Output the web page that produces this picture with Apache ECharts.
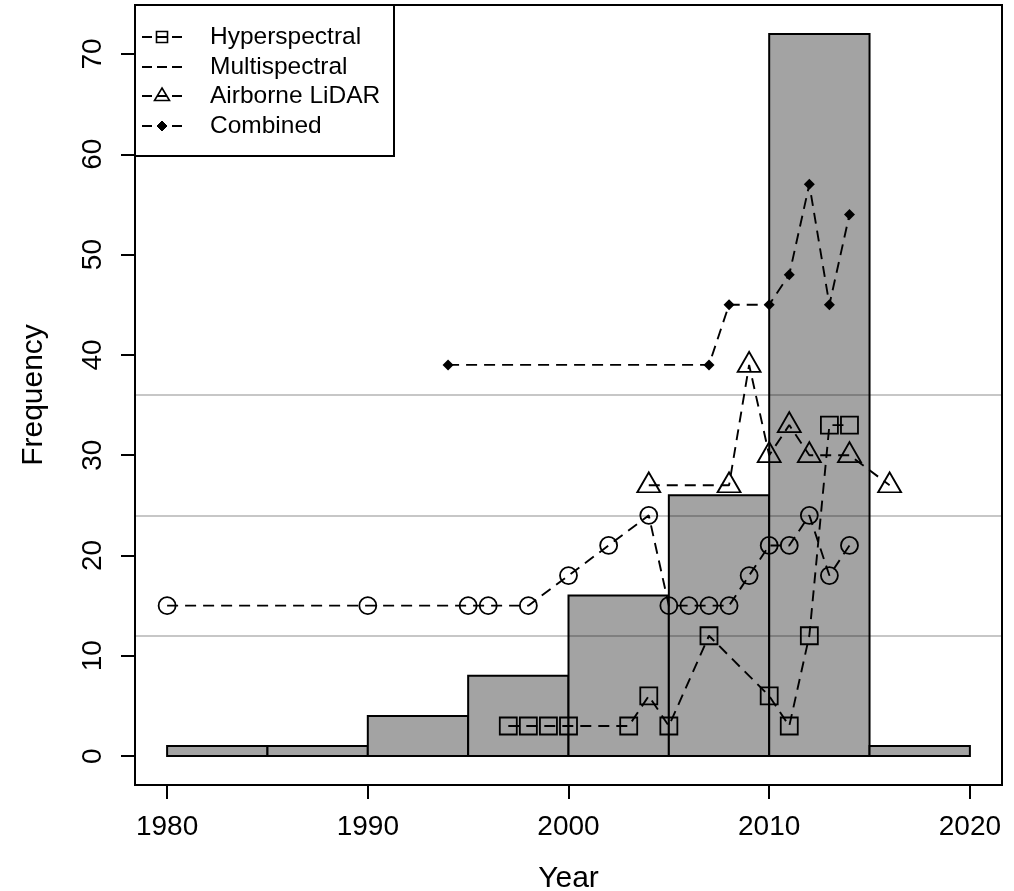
<!DOCTYPE html>
<html>
<head>
<meta charset="utf-8">
<title>Frequency by Year</title>
<script src="https://cdn.jsdelivr.net/npm/echarts@6/dist/echarts.min.js"></script>
<style>
  html, body { margin: 0; padding: 0; background: #fff; }
  #chart { width: 1014px; height: 891px; }
</style>
</head>
<body>
<div id="chart"></div>
<script>
// Histogram of publications per 5-year bin: [binStart, binEnd, count]
const histBins = [
  [1980, 1985, 1],
  [1985, 1990, 1],
  [1990, 1995, 4],
  [1995, 2000, 8],
  [2000, 2005, 16],
  [2005, 2010, 26],
  [2010, 2015, 72],
  [2015, 2020, 1]
];

// Per-year series
const hyperYears = [1997, 1998, 1999, 2000, 2003, 2004, 2005, 2007, 2010, 2011, 2012, 2013, 2014];
const hyperValues = [3, 3, 3, 3, 3, 6, 3, 12, 6, 3, 12, 33, 33];

const multiYears = [1980, 1990, 1995, 1996, 1998, 2000, 2002, 2004, 2005, 2006, 2007, 2008, 2009, 2010, 2011, 2012, 2013, 2014];
const multiValues = [15, 15, 15, 15, 15, 18, 21, 24, 15, 15, 15, 15, 18, 21, 21, 24, 18, 21];

const lidarYears = [2004, 2008, 2009, 2010, 2011, 2012, 2014, 2016];
const lidarValues = [27, 27, 39, 30, 33, 30, 30, 27];

const combinedYears = [1994, 2007, 2008, 2010, 2011, 2012, 2013, 2014];
const combinedValues = [39, 39, 45, 45, 48, 57, 45, 54];

// Horizontal reference lines
const refLines = [12, 24, 36];

// Axis ticks
const xTicks = [1980, 1990, 2000, 2010, 2020];
const yTicks = [0, 10, 20, 30, 40, 50, 60, 70];

const FONT = 'Liberation Sans, Arial, Helvetica, sans-serif';
const DASH = [11, 7];

function pairs(xs, ys) {
  return xs.map((x, i) => [x, ys[i]]);
}

const openStyle = { color: 'rgba(0,0,0,0)', borderColor: '#000', borderWidth: 1.8 };

const chart = echarts.init(document.getElementById('chart'), null, { renderer: 'canvas' });

// Legend keys (drawn as plain shapes in the top-left box)
const legendRows = [
  { y: 37, label: 'Hyperspectral', mark: 'square' },
  { y: 67, label: 'Multispectral', mark: 'none' },
  { y: 96, label: 'Airborne LiDAR', mark: 'triangle' },
  { y: 126, label: 'Combined', mark: 'diamond' }
];
const legendX0 = 142, legendX1 = 182, legendCx = 162, legendTextX = 210;
const legendGraphics = [{
  type: 'rect',
  shape: { x: 135, y: 5, width: 259, height: 151 },
  style: { fill: '#fff', stroke: '#000', lineWidth: 2 },
  z: 100
}];
legendRows.forEach(r => {
  legendGraphics.push({
    type: 'line',
    shape: { x1: legendX0, y1: r.y, x2: legendX1, y2: r.y },
    style: { stroke: '#000', lineWidth: 1.8, lineDash: [10, 5] },
    z: 101
  });
  if (r.mark === 'square') {
    legendGraphics.push({
      type: 'rect',
      shape: { x: legendCx - 5.5, y: r.y - 5.5, width: 11, height: 11 },
      style: { fill: 'none', stroke: '#000', lineWidth: 1.6 },
      z: 102
    });
  } else if (r.mark === 'triangle') {
    legendGraphics.push({
      type: 'polygon',
      shape: { points: [[legendCx, r.y - 8], [legendCx + 7.5, r.y + 4.5], [legendCx - 7.5, r.y + 4.5]] },
      style: { fill: 'none', stroke: '#000', lineWidth: 1.6 },
      z: 102
    });
  } else if (r.mark === 'diamond') {
    legendGraphics.push({
      type: 'polygon',
      shape: { points: [[legendCx, r.y - 5], [legendCx + 5, r.y], [legendCx, r.y + 5], [legendCx - 5, r.y]] },
      style: { fill: '#000', stroke: '#000', lineWidth: 1 },
      z: 102
    });
  }
  legendGraphics.push({
    type: 'text',
    x: legendTextX, y: r.y,
    style: { text: r.label, fill: '#000', font: '24.5px ' + FONT, textVerticalAlign: 'middle', textAlign: 'left' },
    z: 102
  });
});

const option = {
  animation: false,
  backgroundColor: '#fff',
  grid: {
    left: 135, right: 12, top: 5, bottom: 106,
    outerBoundsMode: 'none',
    containLabel: false,
    show: true, borderColor: '#000', borderWidth: 2, backgroundColor: 'rgba(0,0,0,0)'
  },
  xAxis: {
    type: 'value',
    min: 1978.4, max: 2021.6,
    name: 'Year',
    nameLocation: 'middle',
    nameGap: 79,
    nameTextStyle: { fontSize: 30, fontFamily: FONT, color: '#000' },
    axisLine: { show: false, onZero: false },
    splitLine: { show: false },
    axisTick: { show: true, customValues: xTicks, length: 14, lineStyle: { color: '#000', width: 2 } },
    axisLabel: {
      customValues: xTicks, fontSize: 28, fontFamily: FONT, color: '#000', margin: 28,
      formatter: v => String(v)
    }
  },
  yAxis: {
    type: 'value',
    min: -2.88, max: 74.88,
    name: 'Frequency',
    nameLocation: 'middle',
    nameGap: 86,
    nameRotate: 90,
    nameTextStyle: { fontSize: 30, fontFamily: FONT, color: '#000' },
    axisLine: { show: false, onZero: false },
    splitLine: { show: false },
    axisTick: { show: true, customValues: yTicks, length: 14, lineStyle: { color: '#000', width: 2 } },
    axisLabel: {
      customValues: yTicks, fontSize: 28, fontFamily: FONT, color: '#000', margin: 28, rotate: 90,
      formatter: v => String(v)
    }
  },
  graphic: legendGraphics,
  series: [
    {
      name: 'Histogram',
      type: 'custom',
      z: 1,
      data: histBins,
      renderItem: function (params, api) {
        const p0 = api.coord([api.value(0), 0]);
        const p1 = api.coord([api.value(1), api.value(2)]);
        return {
          type: 'rect',
          shape: { x: p0[0], y: p1[1], width: p1[0] - p0[0], height: p0[1] - p1[1] },
          style: { fill: '#a3a3a3', stroke: '#000', lineWidth: 2 }
        };
      },
      encode: { x: [0, 1], y: 2 }
    },
    {
      name: 'Reference',
      type: 'line',
      z: 2,
      data: [],
      markLine: {
        silent: true,
        symbol: 'none',
        label: { show: false },
        lineStyle: { color: 'rgba(0,0,0,0.22)', width: 2, type: 'solid' },
        data: refLines.map(v => ({ yAxis: v }))
      }
    },
    {
      name: 'Multispectral',
      type: 'line',
      z: 3,
      data: pairs(multiYears, multiValues),
      symbol: 'circle',
      symbolSize: 17,
      itemStyle: openStyle,
      lineStyle: { color: '#000', width: 1.9, type: DASH }
    },
    {
      name: 'Hyperspectral',
      type: 'line',
      z: 3,
      data: pairs(hyperYears, hyperValues),
      symbol: 'rect',
      symbolSize: 17,
      itemStyle: openStyle,
      lineStyle: { color: '#000', width: 1.9, type: DASH }
    },
    {
      name: 'Airborne LiDAR',
      type: 'line',
      z: 3,
      data: pairs(lidarYears, lidarValues),
      symbol: 'triangle',
      symbolSize: [23, 20],
      symbolOffset: [0, -3],
      itemStyle: openStyle,
      lineStyle: { color: '#000', width: 1.9, type: DASH }
    },
    {
      name: 'Combined',
      type: 'line',
      z: 3,
      data: pairs(combinedYears, combinedValues),
      symbol: 'diamond',
      symbolSize: 11,
      itemStyle: { color: '#000', borderColor: '#000', borderWidth: 0 },
      lineStyle: { color: '#000', width: 1.9, type: DASH }
    }
  ]
};

chart.setOption(option);
</script>
</body>
</html>
